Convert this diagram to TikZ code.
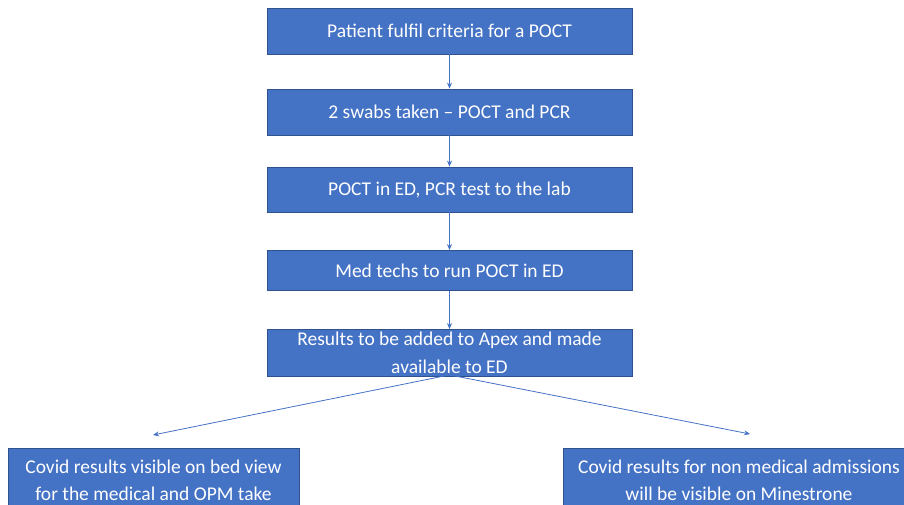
\documentclass[tikz,border=0pt]{standalone}
\usepackage{fontspec}
\setmainfont{Carlito}
\usetikzlibrary{arrows.meta}
\definecolor{boxblue}{HTML}{4472C4}
\definecolor{boxedge}{HTML}{2F528F}
\begin{document}
\begin{tikzpicture}[x=1pt,y=-1pt,
  flowbox/.style={draw=boxedge,line width=0.8pt,fill=boxblue,text=white,align=center,
    inner sep=0pt,font=\fontsize{19.5}{27.5}\selectfont},
  link/.style={draw=boxblue,line width=0.8pt,-{Stealth[length=6pt,width=5pt]}}]
\useasboundingbox (0,0) rectangle (904,505);
\clip (0,0) rectangle (904,505);
\node[flowbox,minimum width=365pt,minimum height=46pt] (b1) at (449.5,31) {Patient fulfil criteria for a POCT};
\node[flowbox,minimum width=365pt,minimum height=46pt] (b2) at (449.5,112) {2 swabs taken -- POCT and PCR};
\node[flowbox,minimum width=365pt,minimum height=45pt] (b3) at (449.5,189.5) {POCT in ED, PCR test to the lab};
\node[flowbox,minimum width=365pt,minimum height=40pt] (b4) at (449.5,270.5) {Med techs to run POCT in ED};
\node[flowbox,minimum width=365pt,minimum height=47pt] (b5) at (449.5,353) {Results to be added to Apex and made\\available to ED};
\node[flowbox,minimum width=291pt,minimum height=64pt,anchor=north] (l) at (153.5,448) {Covid results visible on bed view\\for the medical and OPM take};
\node[flowbox,minimum width=352pt,minimum height=64pt,anchor=north] (r) at (739,448) {Covid results for non medical admissions\\will be visible on Minestrone};
\coordinate (fan) at ([yshift=2pt]b5.south);
\coordinate (lend) at (153,435);
\coordinate (rend) at (750,434);
\draw[link] (b1) -- (b2);
\draw[link] (b2) -- (b3);
\draw[link] (b3) -- (b4);
\draw[link] (b4) -- (b5);
\draw[link] (fan) -- (lend);
\draw[link] (fan) -- (rend);
\end{tikzpicture}
\end{document}
